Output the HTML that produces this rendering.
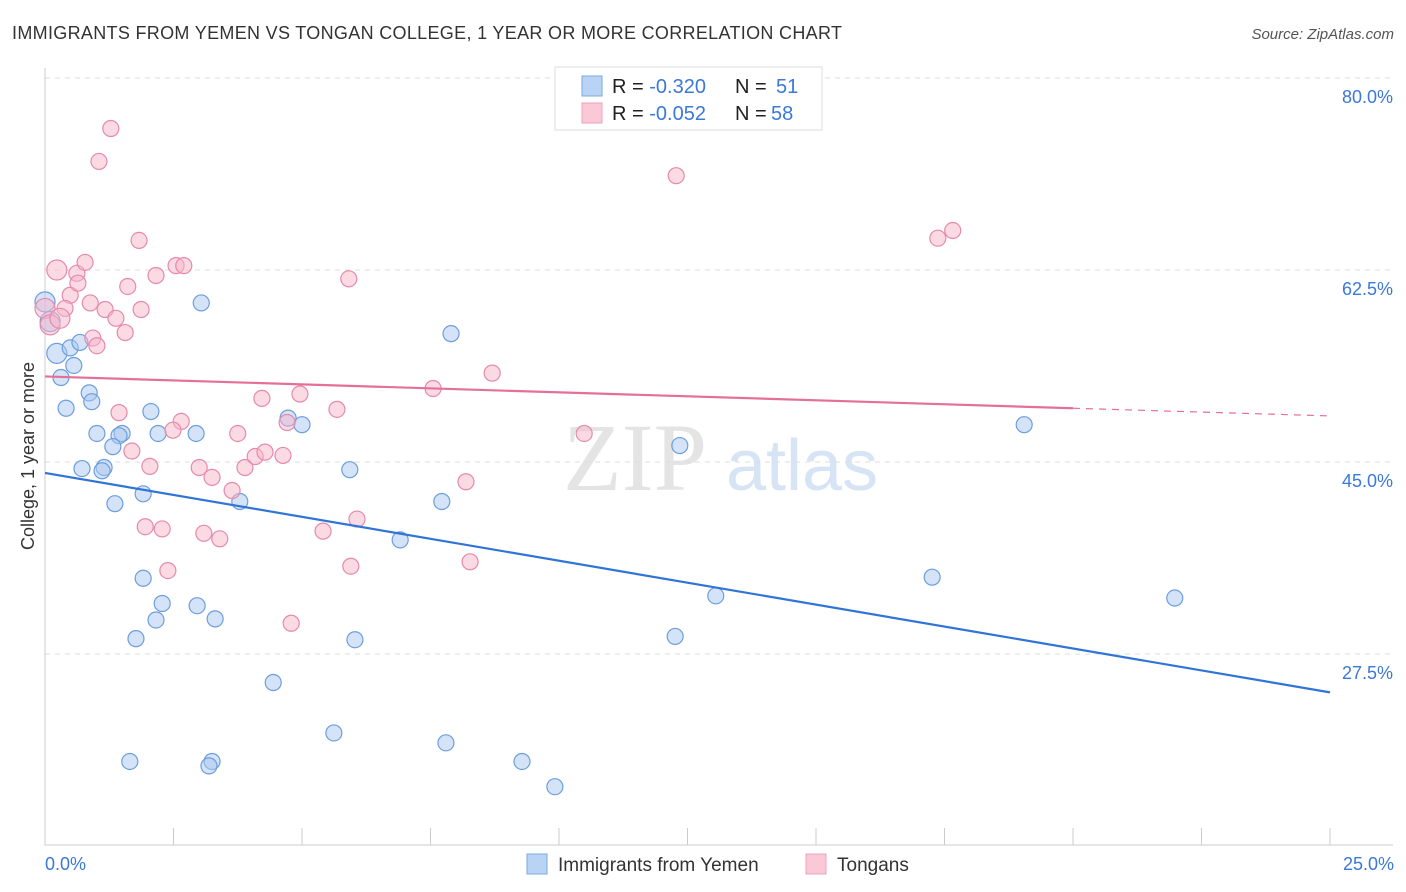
<!DOCTYPE html>
<html><head><meta charset="utf-8"><style>
body{margin:0;background:#fff;font-family:"Liberation Sans",sans-serif;}
svg{display:block}
</style></head><body>
<svg id="c" width="1406" height="892">
<text x="12" y="39" font-size="18" fill="#333" textLength="830">IMMIGRANTS FROM YEMEN VS TONGAN COLLEGE, 1 YEAR OR MORE CORRELATION CHART</text>
<text x="1394" y="39" font-size="15" fill="#555" font-style="italic" text-anchor="end">Source: ZipAtlas.com</text>
<g><text x="635" y="490" font-size="96" font-family="Liberation Serif" fill="#e4e4e4" text-anchor="middle">ZIP</text><text x="802" y="490" font-size="72" fill="#d6e4f5" text-anchor="middle">atlas</text></g>
<g id="grid"></g><g id="axes"></g><g id="pts"></g><g id="trend"></g>
<text transform="translate(34,456) rotate(-90)" font-size="18" fill="#333" text-anchor="middle">College, 1 year or more</text>
<text x="45" y="870" font-size="18" fill="#3b78d8">0.0%</text>
<text x="1394" y="870" font-size="18" fill="#3b78d8" text-anchor="end">25.0%</text>
<g>
<rect x="555" y="67" width="267" height="63" fill="#fff" stroke="#ddd"/>
<rect x="582" y="76" width="20" height="20" fill="#b9d3f5" stroke="#7aa8e0"/>
<rect x="582" y="103" width="20" height="20" fill="#fbc8d8" stroke="#eca0bc"/>
<text x="612" y="93" font-size="20" fill="#222">R = <tspan fill="#3b78d8">-0.320</tspan><tspan x="735">N = </tspan><tspan x="776" fill="#3b78d8">51</tspan></text>
<text x="612" y="120" font-size="20" fill="#222">R = <tspan fill="#3b78d8">-0.052</tspan><tspan x="735">N = </tspan><tspan x="771" fill="#3b78d8">58</tspan></text>
</g>
<g>
<rect x="527" y="854" width="20" height="20" fill="#b9d3f5" stroke="#7aa8e0"/>
<text x="558" y="871" font-size="19" fill="#333">Immigrants from Yemen</text>
<rect x="806" y="854" width="20" height="20" fill="#fbc8d8" stroke="#eca0bc"/>
<text x="837" y="871" font-size="19" fill="#333">Tongans</text>
</g>
</svg>
<script>
const yTicks=[80,62.5,45,27.5];
const yTickLabels=["80.0%","62.5%","45.0%","27.5%"];
const blueX=[0,0.1,0.23,0.49,0.68,0.31,0.56,0.41,0.86,0.91,1.01,1.5,1.44,1.32,2.2,2.94,2.06,0.72,1.15,1.11,1.91,1.36,3.79,3.04,4.73,5.0,7.9,5.93,7.72,6.91,12.35,19.05,1.91,2.28,2.16,2.96,3.31,1.77,6.03,12.26,13.05,17.26,21.98,4.44,5.62,7.8,1.65,3.25,3.19,9.28,9.92];
const blueY=[59.6,57.8,54.9,55.4,55.9,52.7,53.8,49.9,51.3,50.5,47.6,47.6,47.4,46.4,47.6,47.6,49.6,44.4,44.5,44.2,42.1,41.2,41.4,59.5,49.0,48.4,56.7,44.3,41.4,37.9,46.5,48.4,34.4,32.1,30.6,31.9,30.7,28.9,28.8,29.1,32.8,34.5,32.6,24.9,20.3,19.4,17.7,17.7,17.3,17.7,15.4];
const pinkX=[0,0.1,0.23,0.62,0.78,0.49,0.64,0.88,0.39,0.29,1.28,1.05,1.83,2.16,1.61,2.55,2.7,1.17,1.38,1.87,0.93,1.01,1.56,5.91,12.28,17.37,17.66,7.55,8.7,1.44,2.65,2.49,3.75,4.22,4.96,5.68,4.71,1.69,2.04,3.0,3.25,3.89,4.09,4.28,4.63,3.64,8.19,10.49,1.95,2.28,3.09,3.4,5.41,6.07,2.39,5.95,8.27,4.79];
const pinkY=[59.0,57.5,62.5,62.2,63.2,60.2,61.3,59.5,59.0,58.1,75.4,72.4,65.2,62.0,61.0,62.9,62.9,58.9,58.1,58.9,56.3,55.6,56.8,61.7,71.1,65.4,66.1,51.7,53.1,49.5,48.7,47.9,47.6,50.8,51.2,49.8,48.6,46.0,44.6,44.5,43.6,44.5,45.5,45.9,45.6,42.4,43.2,47.6,39.1,38.9,38.5,38.0,38.7,39.8,35.1,35.5,35.9,30.3];
const blueTrend=[[0,44.0],[25,24.0]];
const pinkTrendSolid=[[0,52.8],[20,49.9]];
const pinkTrendDash=[[20,49.9],[25,49.2]];
const xTicks=[0,2.5,5,7.5,10,12.5,15,17.5,20,22.5,25];
const NS='http://www.w3.org/2000/svg';
const X=v=>45+v/25*1285, Y=v=>462-(v-45)*10.97;
function mk(p,t,a){const e=document.createElementNS(NS,t);for(const k in a)e.setAttribute(k,a[k]);document.getElementById(p).appendChild(e);return e;}
yTicks.forEach((t,i)=>{
 let l=mk('grid','line',{x1:45,x2:1393,y1:Y(t),y2:Y(t),stroke:'#ddd','stroke-dasharray':'5,5'});
 
 
 let tx=mk('grid','text',{x:1393,y:Y(t)+25,'font-size':18,fill:'#3b78d8','text-anchor':'end'});
 tx.textContent=yTickLabels[i];
 
 
});
let ax=mk('axes','path',{d:'M45 68V845H1393',stroke:'#ccc',fill:'none'});


xTicks.forEach(t=>{
 let l=mk('axes','line',{x1:X(t),x2:X(t),y1:828,y2:845,stroke:'#ccc'});
 
 
});
function pts(xs,ys,fill,stroke,name){xs.forEach((v,i)=>{
 let c=mk('pts','circle',{cx:X(v),cy:Y(ys[i]),r:(v<0.3?10:8),fill:fill,'fill-opacity':0.5,stroke:stroke,'stroke-width':1.2});
 
 
});}
pts(blueX,blueY,'#a9c8f0','#6c9ede','point-yemen');
pts(pinkX,pinkY,'#f7b5ca','#e58aac','point-tongan');
function tl(s,col,dash,name){let l=mk('trend','line',{x1:X(s[0][0]),y1:Y(s[0][1]),x2:X(s[1][0]),y2:Y(s[1][1]),stroke:col,'stroke-width':dash?1.2:2.2,'stroke-dasharray':dash?'7,6':'none'});
 
 }
tl(blueTrend,'#2f74d6',false,'trend-yemen');
tl(pinkTrendSolid,'#e4709a',false,'trend-tongan');
tl(pinkTrendDash,'#e4709a',true,'trend-tongan-extension');
</script>
</body></html>
